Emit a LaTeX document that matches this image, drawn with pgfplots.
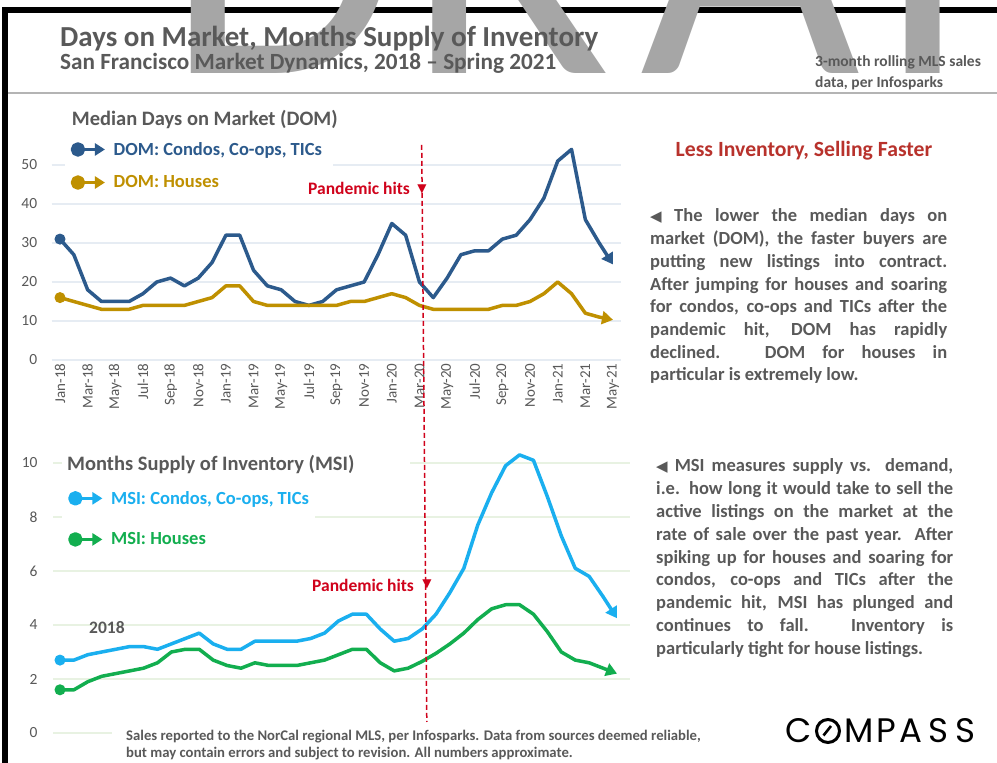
\documentclass[border=0pt]{standalone}
\usepackage{pgfplots}
\pgfplotsset{compat=1.18}
\usepackage{pgfplotstable}
\usepackage{fontspec}
\setmainfont{Carlito}
\newfontfamily\sym{DejaVu Sans}
\newfontfamily\pop{Poppins}
\usetikzlibrary{arrows.meta}
\definecolor{txt}{HTML}{595959}
\definecolor{domc}{HTML}{2C5A8C}
\definecolor{domh}{HTML}{BF9000}
\definecolor{msic}{HTML}{1AAFEF}
\definecolor{msih}{HTML}{12AE4F}
\definecolor{red1}{HTML}{D0021B}
\definecolor{red2}{HTML}{B8322C}
\definecolor{wm}{HTML}{A6A6A6}
\definecolor{gridb}{HTML}{E6ECF3}
\definecolor{gridg}{HTML}{E8F2E2}
\definecolor{sepc}{HTML}{B4B4B4}

\pgfplotstableread{
m domc domh
0 31 16
1 27 15
2 18 14
3 15 13
4 15 13
5 15 13
6 17 14
7 20 14
8 21 14
9 19 14
10 21 15
11 25 16
12 32 19
13 32 19
14 23 15
15 19 14
16 18 14
17 15 14
18 14 14
19 15 14
20 18 14
21 19 15
22 20 15
23 27 16
24 35 17
25 32 16
26 20 14
27 16 13
28 21 13
29 27 13
30 28 13
31 28 13
32 31 14
33 32 14
34 36 15
35 41.5 17
36 51 20
37 54 17
38 36 12
39 30 11
40 24.5 10.3
}\domdata

\pgfplotstableread{
m msic msih
0 2.7 1.6
1 2.7 1.6
2 2.9 1.9
3 3.0 2.1
4 3.1 2.2
5 3.2 2.3
6 3.2 2.4
7 3.1 2.6
8 3.3 3.0
9 3.5 3.1
10 3.7 3.1
11 3.3 2.7
12 3.1 2.5
13 3.1 2.4
14 3.4 2.6
15 3.4 2.5
16 3.4 2.5
17 3.4 2.5
18 3.5 2.6
19 3.7 2.7
20 4.15 2.9
21 4.4 3.1
22 4.4 3.1
23 3.85 2.6
24 3.4 2.3
25 3.5 2.4
26 3.85 2.65
27 4.4 2.95
28 5.2 3.3
29 6.1 3.7
30 7.7 4.2
31 8.9 4.6
32 9.9 4.75
33 10.3 4.75
34 10.1 4.4
35 8.75 3.75
36 7.3 3.0
37 6.1 2.7
38 5.8 2.6
39 5.05 2.4
40 4.25 2.2
}\msidata

\newcommand{\jl}[1]{\makebox[297pt][s]{#1}\\}
\newcommand{\tri}{{\sym\fontsize{15}{15}\selectfont ◀}}

\pgfplotsset{
  legimg/.style={legend image code/.code={
    \draw[line width=3.5pt,-{Triangle[length=10pt,width=12pt]}] (0pt,0pt) -- (27pt,0pt);
    \fill (0pt,0pt) circle (5.5pt);}},
  mychart/.style={scale only axis, clip=false,
    axis line style={draw=none}, major tick length=0pt,
    xtick pos=bottom, ytick pos=left,
    /pgf/number format/assume math mode=true,
    ymajorgrids,
    yticklabel style={font=\fontsize{15.5}{16}\selectfont, text=txt},
    legend cell align=left,
  },
}

\begin{document}
\begin{tikzpicture}[x=1pt,y=1pt]
\useasboundingbox (0,0) rectangle (997,763);
\fill[white] (0,0) rectangle (997,763);
% frame
\fill[black] (2,0) rectangle (8,756);
\fill[black] (2,750) rectangle (997,756);
% watermark
\begin{scope}
\clip (8,671) rectangle (997,763);
\begin{scope}[every node/.style={anchor=base west, inner sep=0, text=wm, font=\fontsize{380}{380}\selectfont}]
\node at (165,689) {D};
\node at (405,689) {R};
\node at (640,689) {A};
\node at (880,689) {F};
\end{scope}
\end{scope}
\draw[line width=2pt, sepc] (8,670) -- (997,670);

% header texts
\node[anchor=base west, inner sep=0, text=txt, font=\bfseries\fontsize{29}{30}\selectfont] at (60,716.3) {Days on Market, Months Supply of Inventory};
\node[anchor=base west, inner sep=0, text=txt, font=\bfseries\fontsize{23.2}{24}\selectfont] at (60,693) {San Francisco Market Dynamics, 2018 – Spring 2021};
\node[anchor=base west, inner sep=0, text=txt, font=\bfseries\fontsize{15.5}{16}\selectfont] at (815,696) {3-month rolling MLS sales};
\node[anchor=base west, inner sep=0, text=txt, font=\bfseries\fontsize{15.5}{16}\selectfont] at (815,675) {data, per Infosparks};

% DOM chart
\begin{axis}[mychart, at={(51.7pt,403pt)}, anchor=south west,
  width=569.6pt, height=195pt,
  xmin=-0.6, xmax=40.6, ymin=0, ymax=50,
  ytick={0,10,...,50}, grid style={gridb, line width=1.2pt},
  yticklabel style={xshift=-11pt},
  xtick={0,2,...,40},
  xticklabels={Jan-18,Mar-18,May-18,Jul-18,Sep-18,Nov-18,Jan-19,Mar-19,May-19,Jul-19,Sep-19,Nov-19,Jan-20,Mar-20,May-20,Jul-20,Sep-20,Nov-20,Jan-21,Mar-21,May-21},
  xticklabel style={rotate=90, anchor=east, font=\fontsize{15}{15}\selectfont, text=txt},
  legend style={at={(axis cs:0.76,56.4)}, anchor=north west, draw=none, fill=none,
    inner sep=0pt, font=\bfseries\fontsize{18.5}{20}\selectfont, row sep=15pt},
]
\addplot[domc, line width=3.5pt, line join=round, -{Triangle[length=11pt,width=13pt]},
  mark=*, mark indices={1}, mark size=5pt, mark options={solid,line width=1pt}, legimg]
  table[x=m,y=domc]{\domdata};
\addlegendentry{\hspace{5pt}\textcolor{domc}{DOM: Condos, Co-ops, TICs}}
\addplot[domh, line width=3.5pt, line join=round, -{Triangle[length=11pt,width=13pt]},
  mark=*, mark indices={1}, mark size=5pt, mark options={solid,line width=1pt}, legimg]
  table[x=m,y=domh]{\domdata};
\addlegendentry{\hspace{5pt}\textcolor{domh}{DOM: Houses}}
\end{axis}

% MSI chart
\begin{axis}[mychart, at={(53.04pt,30pt)}, anchor=south west,
  width=576.5pt, height=270pt,
  xmin=-0.5, xmax=40.9, ymin=0, ymax=10,
  ytick={0,2,...,10}, grid style={gridg, line width=1.2pt},
  yticklabel style={xshift=-12pt},
  xtick=\empty,
  legend style={at={(axis cs:0.57,9.04)}, anchor=north west, draw=none, fill=none,
    inner sep=0pt, font=\bfseries\fontsize{18.5}{20}\selectfont, row sep=23pt},
]
\addplot[msic, line width=3.5pt, line join=round, -{Triangle[length=11pt,width=13pt]},
  mark=*, mark indices={1}, mark size=5pt, mark options={solid,line width=1pt}, legimg]
  table[x=m,y=msic]{\msidata};
\addlegendentry{\hspace{5pt}\textcolor{msic}{MSI: Condos, Co-ops, TICs}}
\addplot[msih, line width=3.5pt, line join=round, -{Triangle[length=11pt,width=13pt]},
  mark=*, mark indices={1}, mark size=5pt, mark options={solid,line width=1pt}, legimg]
  table[x=m,y=msih]{\msidata};
\addlegendentry{\hspace{5pt}\textcolor{msih}{MSI: Houses}}
\end{axis}

% cover gridlines under text boxes
\fill[white] (65,596) rectangle (333,600);
\fill[white] (62,298) rectangle (410,302);
\fill[white] (62,244) rectangle (315,248);
\fill[white] (112,0) rectangle (705,36);

% chart titles
\node[anchor=base west, inner sep=0, text=txt, font=\bfseries\fontsize{20.5}{22}\selectfont] at (71.7,637) {Median Days on Market (DOM)};
\node[anchor=base west, inner sep=0, text=txt, font=\bfseries\fontsize{20.5}{22}\selectfont] at (67,292.3) {Months Supply of Inventory (MSI)};
\node[anchor=base west, inner sep=0, text=txt, font=\bfseries\fontsize{17.5}{18}\selectfont] at (89,129) {2018};

% pandemic
\draw[red1, line width=1.5pt, dash pattern=on 5pt off 3pt] (421.7,618) -- (426.8,41);
\node[anchor=base west, inner sep=0, text=red1, font=\bfseries\fontsize{17.5}{18}\selectfont] at (308,568.7) {Pandemic hits};
\node[anchor=base west, inner sep=0, text=red1, font=\bfseries\fontsize{17.5}{18}\selectfont] at (312,171.3) {Pandemic hits};
\node[inner sep=0, text=red1, font=\sym\fontsize{12}{12}\selectfont] at (422,574) {▼};
\node[inner sep=0, text=red1, font=\sym\fontsize{12}{12}\selectfont] at (427,178.5) {▼};

% right side text
\node[anchor=base, inner sep=0, text=red2, font=\bfseries\fontsize{21.7}{22}\selectfont] at (804,606.3) {Less Inventory, Selling Faster};
\node[anchor=base west, inner sep=0, text=txt] at (650,541) {\parbox[t]{297pt}{\bfseries\fontsize{18.5}{22.7}\selectfont
\jl{\tri{} The lower the median days on}
\jl{market (DOM), the faster buyers are}
\jl{putting new listings into contract.}
\jl{After jumping for houses and soaring}
\jl{for condos, co-ops and TICs after the}
\jl{pandemic hit, DOM has rapidly}
\jl{declined. DOM for houses in}
particular is extremely low.}};
\node[anchor=base west, inner sep=0, text=txt] at (656,291) {\parbox[t]{297pt}{\bfseries\fontsize{18.5}{22.8}\selectfont
\jl{\tri{} MSI measures supply vs. demand,}
\jl{i.e. how long it would take to sell the}
\jl{active listings on the market at the}
\jl{rate of sale over the past year. After}
\jl{spiking up for houses and soaring for}
\jl{condos, co-ops and TICs after the}
\jl{pandemic hit, MSI has plunged and}
\jl{continues to fall. Inventory is}
particularly tight for house listings.}};

% footer
\node[anchor=base west, inner sep=0, text=txt, font=\bfseries\fontsize{14.7}{17}\selectfont] at (126,22) {Sales reported to the NorCal regional MLS, per Infosparks. Data from sources deemed reliable,};
\node[anchor=base west, inner sep=0, text=txt, font=\bfseries\fontsize{14.7}{17}\selectfont] at (126,5) {but may contain errors and subject to revision. All numbers approximate.};

% logo
\begin{scope}[every node/.style={anchor=base west, inner sep=0, text=black, font=\pop\fontsize{34}{34}\selectfont}]
\node at (785.5,20) {C};
\draw[line width=3pt] (828,32) circle (11.5);
\draw[line width=2.6pt] (823.5,27.5) -- (831,37);
\node at (844.5,20) {M};
\node at (876,20) {P};
\node at (899.5,20) {A};
\node at (928.5,20) {S};
\node at (955.5,20) {S};
\end{scope}
\end{tikzpicture}
\end{document}
